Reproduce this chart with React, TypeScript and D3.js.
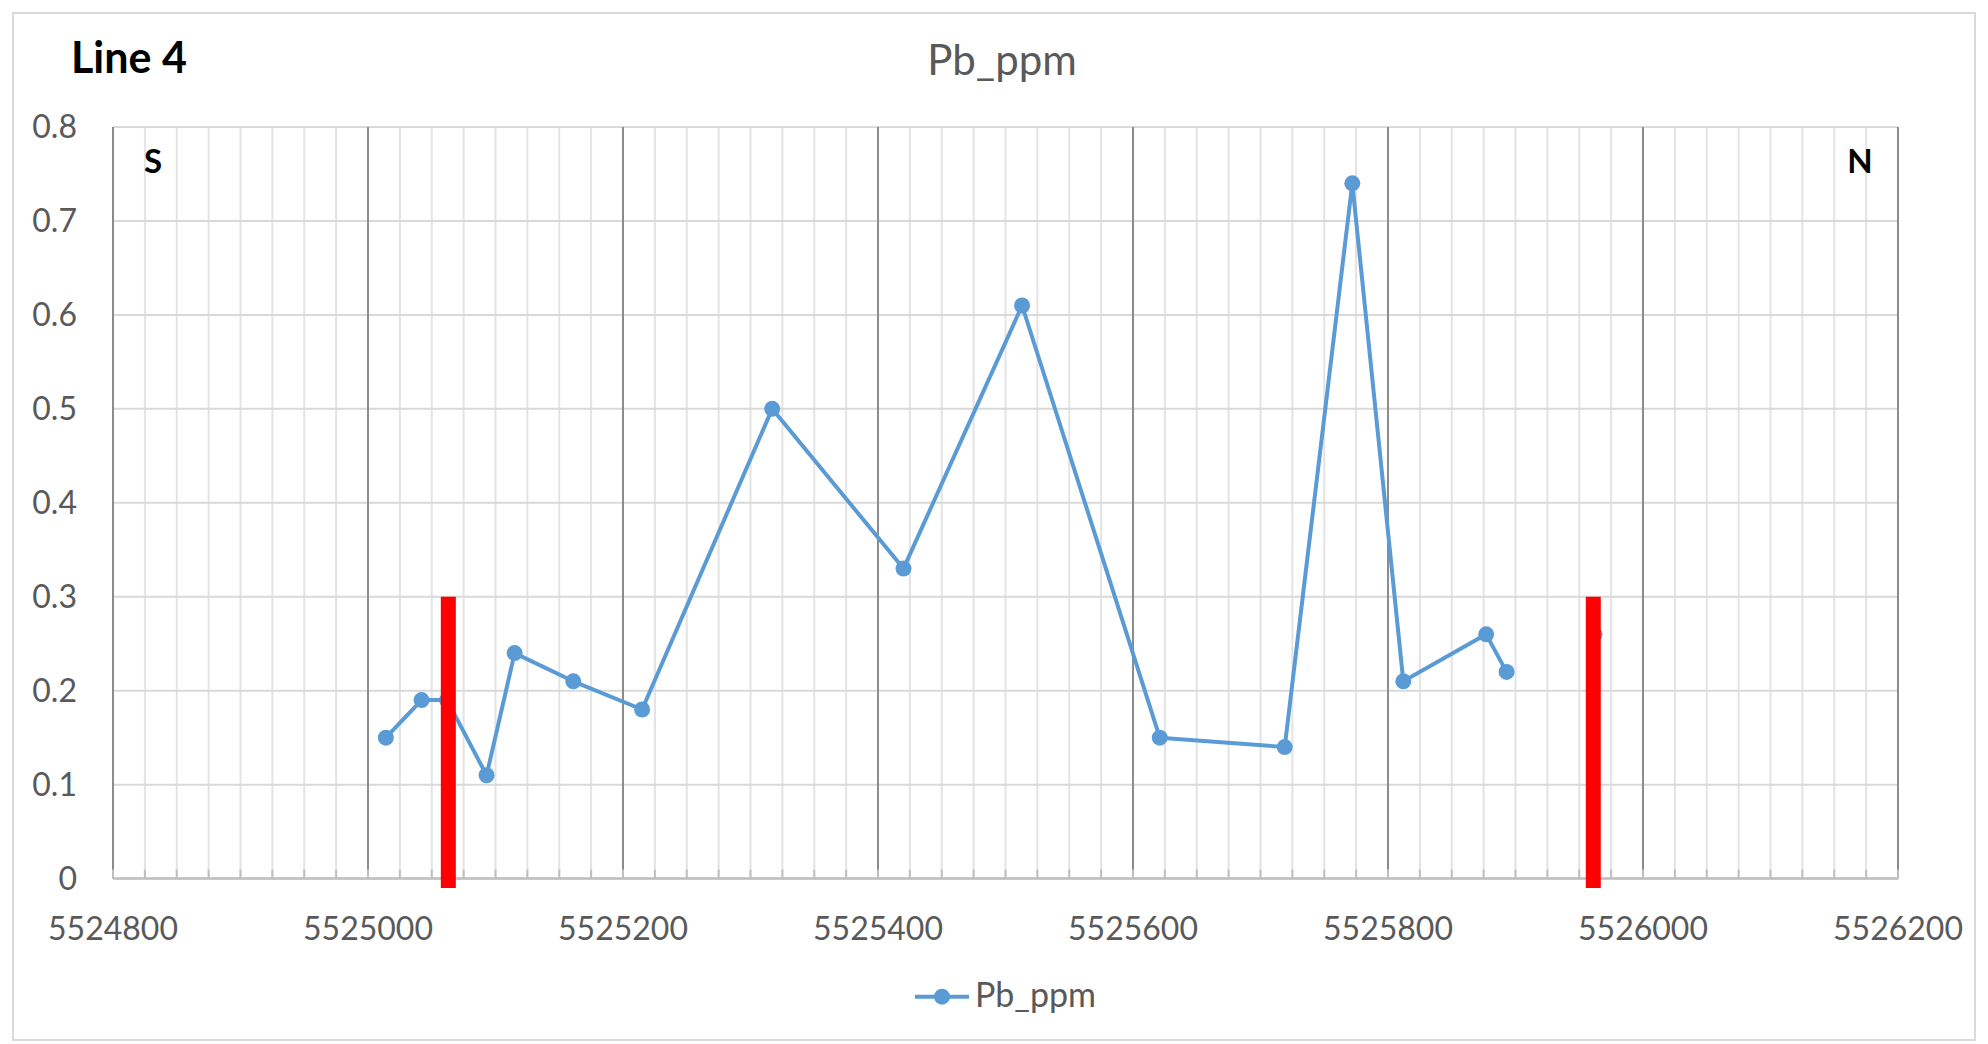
import React from "react";
import * as d3 from "d3";

// ---- data ----
const northings: number[] = [5525014, 5525042, 5525062, 5525093, 5525115, 5525161, 5525215, 5525317, 5525420, 5525513, 5525621, 5525719, 5525772, 5525812, 5525877, 5525893, 5525930, 5525962];
const pbPpm: (number | null)[] = [0.15, 0.19, 0.19, 0.11, 0.24, 0.21, 0.18, 0.5, 0.33, 0.61, 0.15, 0.14, 0.74, 0.21, 0.26, 0.22, null, 0.26];
const boundaryNorthings: number[] = [5525063, 5525961];
const boundaryTop = 0.3;
const boundaryBottom = -0.01;
const xTicks: number[] = [5524800, 5525000, 5525200, 5525400, 5525600, 5525800, 5526000, 5526200];
const yTicks: number[] = [0, 0.1, 0.2, 0.3, 0.4, 0.5, 0.6, 0.7, 0.8];
const xMinorStep = 25;
const chartTitle = "Pb_ppm";
const lineLabel = "Line 4";
const seriesName = "Pb_ppm";

const W = 1988;
const H = 1044;
const FONT = "Lato, 'Open Sans', sans-serif";

export default function App() {
  const left = 113, right = 1898, top = 127, bottom = 878.6;
  const x = d3.scaleLinear().domain([5524800, 5526200]).range([left, right]);
  const y = d3.scaleLinear().domain([0, 0.8]).range([bottom, top]);

  const minor = d3.range(5524800, 5526200 + 1, xMinorStep);
  const pts = northings.map((n, i) => ({ n, v: pbPpm[i] }));
  const line = d3
    .line<{ n: number; v: number | null }>()
    .defined((d) => d.v !== null)
    .x((d) => x(d.n))
    .y((d) => y(d.v as number));

  return (
    <svg width={W} height={H} style={{ position: "absolute", left: 0, top: 0, background: "#fff" }}>
      <rect x={13} y={13} width={1962} height={1027} fill="#fff" stroke="#d9d9d9" strokeWidth={2} />
      {/* minor vertical grid */}
      {minor.map((m) => (
        <line key={"mv" + m} x1={x(m)} x2={x(m)} y1={top} y2={bottom} stroke="#e3e3e3" strokeWidth={2} />
      ))}
      {/* horizontal grid */}
      {yTicks.map((t) => (
        <line key={"h" + t} x1={left} x2={right} y1={y(t)} y2={y(t)} stroke="#d9d9d9" strokeWidth={2} />
      ))}
      {/* major vertical grid */}
      {xTicks.map((t) => (
        <line key={"mj" + t} x1={x(t)} x2={x(t)} y1={top} y2={bottom} stroke="#8c8c8c" strokeWidth={2} />
      ))}
      {/* x axis line + minor ticks */}
      <line x1={left} x2={right} y1={bottom} y2={bottom} stroke="#bfbfbf" strokeWidth={2.5} />
      {minor.map((m) => (
        <line key={"mt" + m} x1={x(m)} x2={x(m)} y1={bottom - 9} y2={bottom} stroke="#bfbfbf" strokeWidth={2} />
      ))}
      {/* series */}
      <path d={line(pts) || ""} fill="none" stroke="#5b9bd5" strokeWidth={4} strokeLinejoin="round" />
      {pts.filter((p) => p.v !== null).map((p, i) => (
        <circle key={"c" + i} cx={x(p.n)} cy={y(p.v as number)} r={8} fill="#5b9bd5" />
      ))}
      {/* boundary bars */}
      {boundaryNorthings.map((b) => (
        <rect key={"b" + b} x={x(b) - 7.5} y={y(boundaryTop)} width={15} height={y(boundaryBottom) - y(boundaryTop)} fill="#ff0000" />
      ))}
      {/* y tick labels */}
      {yTicks.map((t) => (
        <text key={"yl" + t} x={77} y={y(t)} dy="0.35em" textAnchor="end" fontFamily={FONT} fontSize={32} fill="#595959">
          {d3.format("")(t)}
        </text>
      ))}
      {/* x tick labels */}
      {xTicks.map((t) => (
        <text key={"xl" + t} x={x(t)} y={940} textAnchor="middle" fontFamily={FONT} fontSize={32} fill="#595959">
          {t}
        </text>
      ))}
      <text x={1002} y={75} textAnchor="middle" fontFamily={FONT} fontSize={42} fill="#595959">
        {chartTitle}
      </text>
      <text x={71} y={73} fontFamily={FONT} fontSize={43} fontWeight="bold" fill="#000">
        {lineLabel}
      </text>
      <text x={153} y={173} textAnchor="middle" fontFamily={FONT} fontSize={33} fontWeight="bold" fill="#000">
        S
      </text>
      <text x={1860} y={172.5} textAnchor="middle" fontFamily={FONT} fontSize={33} fontWeight="bold" fill="#000">
        N
      </text>
      {/* legend */}
      <line x1={915} x2={969} y1={996.7} y2={996.7} stroke="#5b9bd5" strokeWidth={4} />
      <circle cx={942} cy={996.7} r={8} fill="#5b9bd5" />
      <text x={975} y={1007} fontFamily={FONT} fontSize={34} fill="#595959">
        {seriesName}
      </text>
    </svg>
  );
}
